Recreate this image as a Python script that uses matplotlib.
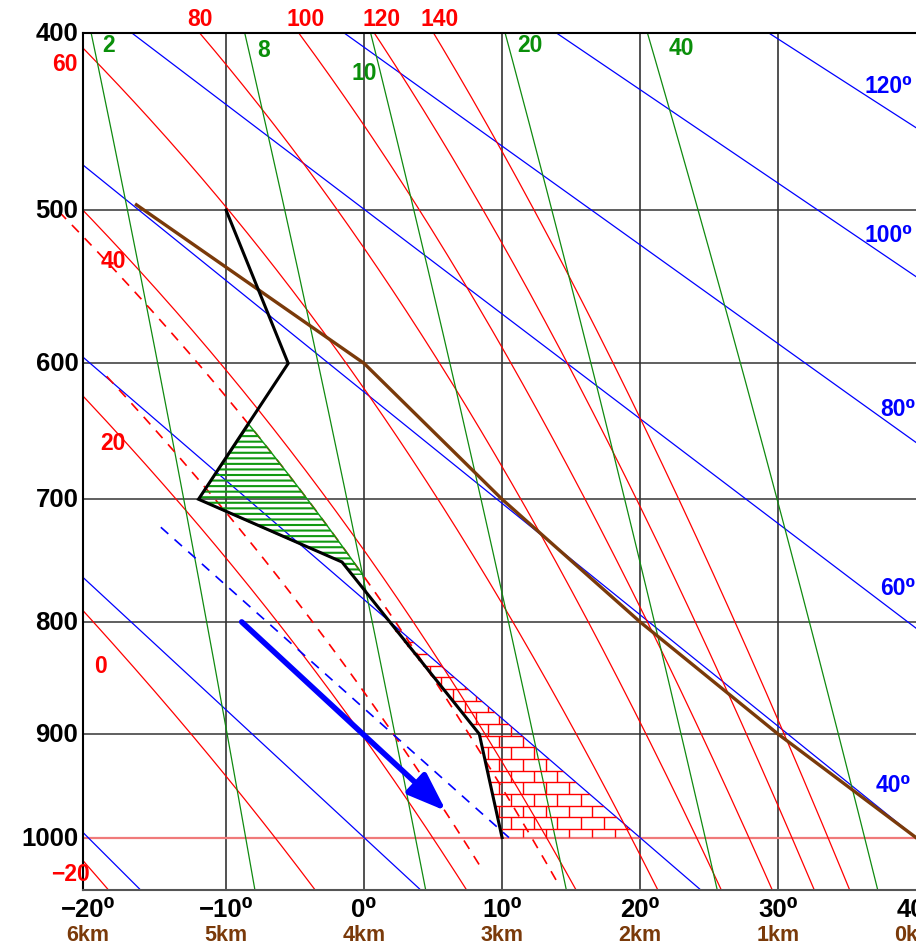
import numpy as np
import matplotlib.pyplot as plt
from matplotlib.patches import Polygon
from matplotlib.collections import LineCollection

plt.rcParams['font.family'] = ['Liberation Sans', 'DejaVu Sans']
plt.rcParams['font.weight'] = 'bold'
plt.rcParams['hatch.linewidth'] = 1.5

KAPPA = 0.286

# ============================
# Datos
# ============================
isobars = [500, 600, 700, 800, 900]
isotherms = [-10, 0, 10, 20, 30]
temp_ticks = [-20, -10, 0, 10, 20, 30, 40]
km_labels = ['6km', '5km', '4km', '3km', '2km', '1km', '0km']

theta_dry = [-20, 0, 20, 40, 60, 80, 100, 120]          # adiabatas secas (azul)
theta_e = [-20, 0, 20, 40, 60, 80, 100, 120, 140]       # pseudoadiabatas (rojo)
mix_ratio = [2, 5, 10, 20, 40]                          # razón de mezcla g/kg (verde)
mix_labels = ['2', '8', '10', '20', '40']

# sondeo
snd_p = [500, 600, 700, 750, 900, 1000]
snd_T = [-10.0, -5.5, -12.0, -1.6, 8.35, 10.0]

# línea marrón
brown_p = [496.7, 600, 700, 800, 900, 1000]
brown_T = [-16.5, 0, 10, 20, 30, 40]

# pseudoadiabatas discontinuas
dash_the = [37.0, 24.6]
dash_p0 = [501.0, 609.0]
dash_p1 = [1048.0, 1032.0]
# adiabata seca discontinua
dash_theta = 10.5
dash_theta_p = [722.0, 1000.0]

# flecha
arrow_T = [-8.87, 5.94]
arrow_p = [800.0, 973.6]

P_TOP, P_BOT = 400, 1053
T_LEFT, T_RIGHT = -20.35, 40.0


def es(tc):
    return 6.112 * np.exp(17.67 * tc / (tc + 243.5))


def thetae(tc, p):
    t = tc + 273.15
    e = es(tc)
    r = 622.0 * e / np.maximum(p - e, 1e-3)
    return t * (1000.0 / p) ** (0.2854 * (1 - 0.00028 * r)) * \
        np.exp((3.376 / t - 0.00254) * r * (1 + 0.00081 * r))


def moist_T(the_c, p):
    target = the_c + 273.15
    lo = np.full_like(p, -80.0)
    hi = np.full_like(p, 50.0)
    for _ in range(60):
        mid = 0.5 * (lo + hi)
        f = thetae(mid, p) - target
        hi = np.where(f > 0, mid, hi)
        lo = np.where(f > 0, lo, mid)
    return 0.5 * (lo + hi)


def dry_T(th, p):
    return (th + 273.15) * (p / 1000.0) ** KAPPA - 273.15


def mix_T(r, p):
    e = r * p / (622.0 + r)
    a = np.log(e / 6.112)
    return 243.5 * a / (17.67 - a)


def snd_interp(p):
    return np.interp(p, snd_p, snd_T)


fig = plt.figure(figsize=(9.16, 9.45), dpi=100)
ax = fig.add_axes([83.3 / 916, 1 - 890.5 / 945, 1 - 83.3 / 916, (890.5 - 34.3) / 945])
ax.set_yscale('function', functions=(lambda p: np.power(np.abs(p), KAPPA),
                                     lambda y: np.power(np.abs(y), 1 / KAPPA)))
ax.set_xlim(T_LEFT, T_RIGHT)
ax.set_ylim(P_BOT, P_TOP)
ax.set_xticks([])
ax.set_yticks([])
ax.yaxis.set_minor_locator(plt.NullLocator())
for s in ['left', 'top']:
    ax.spines[s].set_linewidth(1.5)
    ax.spines[s].set_color('black')
ax.spines['bottom'].set_linewidth(1.5)
ax.spines['bottom'].set_color('#555555')
ax.spines['right'].set_visible(False)

# rejilla
for pb in isobars:
    ax.axhline(pb, color='#444444', lw=1.2, zorder=1)
for tv in isotherms:
    ax.axvline(tv, color='#333333', lw=1.2, zorder=1)
ax.axhline(1000, color='#f07a7a', lw=1.6, zorder=1)

p = np.linspace(380, 1060, 300)

# adiabatas secas
for th in theta_dry:
    ax.plot(dry_T(th, p), p, color='blue', lw=0.9, zorder=2)

# pseudoadiabatas
for th in theta_e:
    ax.plot(moist_T(th, p), p, color='red', lw=0.9, zorder=2)

# razón de mezcla
for r in mix_ratio:
    ax.plot(mix_T(r, p), p, color='#108a10', lw=0.9, zorder=2)

# discontinuas
for th, p0, p1 in zip(dash_the, dash_p0, dash_p1):
    pp = np.linspace(p0, p1, 200)
    ax.plot(moist_T(th, pp), pp, color='red', lw=1.2, ls=(0, (6, 5)), zorder=3,
            clip_on=False)
pp = np.linspace(dash_theta_p[0], dash_theta_p[1], 100)
ax.plot(dry_T(dash_theta, pp), pp, color='blue', lw=1.2, ls=(0, (6, 5)), zorder=3)

# área verde (entre sondeo y pseudoadiabata)
pg = np.linspace(600, 760, 1601)
diff = snd_interp(pg) - moist_T(dash_the[0], pg)
idx = np.where(diff < 0)[0]
pg_in = pg[idx[0]:idx[-1] + 1]
green_pts = np.vstack([np.column_stack([snd_interp(pg_in), pg_in]),
                       np.column_stack([moist_T(dash_the[0], pg_in[::-1]), pg_in[::-1]])])
ax.add_patch(Polygon(green_pts, closed=True, fill=False, hatch='---',
                     edgecolor='#119911', lw=1.0, zorder=4))

# área de ladrillos (entre sondeo y adiabata seca de 20)
pr = np.linspace(760, 1000, 2401)
d2 = dry_T(20, pr) - snd_interp(pr)
start = np.where(d2 > 0)[0]
pr_in = pr[start[0]:]
brick_pts = np.vstack([np.column_stack([snd_interp(pr_in), pr_in]),
                       np.column_stack([dry_T(20, pr_in[::-1]), pr_in[::-1]])])
brick_poly = Polygon(brick_pts, closed=True, fill=False, edgecolor='none', zorder=4)
ax.add_patch(brick_poly)

ax_w, ax_h = 916 - 83.3, 890.5 - 34.3
row_h, brick_w = 11.67, 23.2
segs = []
for k in range(-1, 30):
    y_lo = 830 - row_h * k
    y_hi = y_lo - row_h
    yb = (890.5 - y_lo) / ax_h
    yt = (890.5 - y_hi) / ax_h
    segs.append([(0, yt), (1, yt)])
    off = 511 + (brick_w / 2 if k % 2 else 0)
    for j in range(-40, 40):
        xp = off + brick_w * j
        xa = (xp - 83.3) / ax_w
        if 0 <= xa <= 1:
            segs.append([(xa, yb), (xa, yt)])
lc = LineCollection(segs, colors='red', linewidths=1.0, transform=ax.transAxes, zorder=4)
ax.add_collection(lc)
lc.set_clip_path(brick_poly)

# sondeo
ax.plot(snd_T, snd_p, color='black', lw=2.2, zorder=6, solid_joinstyle='miter')

# línea marrón
ax.plot(brown_T, brown_p, color='#7a3a0a', lw=2.4, zorder=5)

# flecha
ax.annotate('', xy=(arrow_T[1], arrow_p[1]), xytext=(arrow_T[0], arrow_p[0]),
            arrowprops=dict(arrowstyle='-|>,head_length=0.9,head_width=0.33',
                            color='blue', lw=4, mutation_scale=26,
                            shrinkA=0, shrinkB=0), zorder=7)

# ============================
# Textos
# ============================
ytr = ax.get_yaxis_transform()
xtr = ax.get_xaxis_transform()
for pv in [400, 500, 600, 700, 800, 900, 1000]:
    ax.text(-0.006, pv, str(pv), transform=ytr, ha='right', va='center',
            fontsize=18.5, color='black')

for tv, km in zip(temp_ticks, km_labels):
    ax.text(tv, -0.023, '\u2212' * (tv < 0) + str(abs(tv)) + '\u2070', transform=xtr,
            ha='center', va='center', fontsize=18.5, color='black', clip_on=False)
    ax.text(tv, -0.052, km, transform=xtr, ha='center', va='center',
            fontsize=15.5, color='#7a3a0a')

red_left = [('60', -21.68, 416.2), ('40', -18.2, 531.7), ('20', -18.2, 656.6),
            ('0', -19.07, 838.0), ('\u221220', -21.31, 1036.9)]
for s, tv, pv in red_left:
    ax.text(tv, pv, s, ha='center', va='center', fontsize=16.5, color='red',
            clip_on=False)
for s, tv in [('80', -11.89), ('100', -4.21), ('120', 1.30), ('140', 5.50)]:
    ax.text(tv, 1.017, s, transform=xtr, ha='center', va='center', fontsize=16.5,
            color='red')

green_pos = [(-18.55, 406), (-7.25, 408.7), (0.0, 421), (12.02, 406), (23.03, 407.7)]
for s, (tv, pv) in zip(mix_labels, green_pos):
    ax.text(tv, pv, s, ha='center', va='center', fontsize=16.5, color='#0a8f0a')

blue_lab = [('120', 36.3, 427.6), ('100', 36.3, 515.0), ('80', 37.38, 632.3),
            ('60', 37.38, 770.6), ('40', 37.09, 948.1)]
for s, tv, pv in blue_lab:
    ax.text(tv, pv, s + '\u2070', ha='left', va='center', fontsize=16.5, color='blue',
            clip_on=False)

fig.savefig('out.png', dpi=100)
